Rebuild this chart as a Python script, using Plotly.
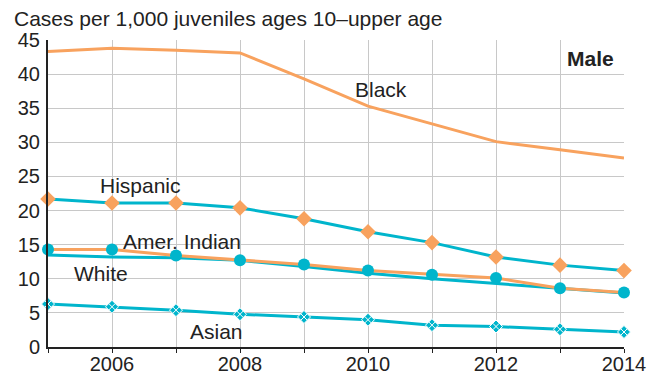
import plotly.graph_objects as go

years = list(range(2005, 2015))
black = [43.3, 43.8, 43.5, 43.1, 39.3, 35.3, 32.7, 30.1, 28.9, 27.7]
hispanic = [21.7, 21.1, 21.1, 20.4, 18.8, 16.9, 15.3, 13.2, 12.0, 11.2]
amer_indian = [14.3, 14.3, 13.4, 12.7, 12.1, 11.2, 10.6, 10.1, 8.6, 8.0]
white = [13.5, 13.2, 13.1, 12.7, 11.8, 10.8, 10.0, 9.3, 8.6, 7.9]
asian = [6.3, 5.9, 5.4, 4.8, 4.4, 4.0, 3.2, 3.0, 2.6, 2.2]
x_tick_text = ["" if y % 2 else str(y) for y in years]
y_ticks = list(range(0, 50, 5))

ORANGE = "#F8A25E"
CYAN = "#00B5CC"
FONT = "Liberation Sans, Arial, sans-serif"

fig = go.Figure()
fig.add_trace(go.Scatter(x=years, y=black, mode="lines",
                         line=dict(color=ORANGE, width=3), cliponaxis=False))
fig.add_trace(go.Scatter(x=years, y=white, mode="lines",
                         line=dict(color=CYAN, width=3), cliponaxis=False))
fig.add_trace(go.Scatter(x=years, y=amer_indian, mode="lines+markers",
                         line=dict(color=ORANGE, width=3),
                         marker=dict(symbol="circle", size=12, color=CYAN),
                         cliponaxis=False))
fig.add_trace(go.Scatter(x=years, y=hispanic, mode="lines+markers",
                         line=dict(color=CYAN, width=3),
                         marker=dict(symbol="diamond", size=12, color=ORANGE),
                         cliponaxis=False))
fig.add_trace(go.Scatter(x=years, y=asian, mode="lines+markers",
                         line=dict(color=CYAN, width=3),
                         marker=dict(symbol="diamond-x", size=10, color=CYAN,
                                     line=dict(color="white", width=1)),
                         cliponaxis=False))

def label(text, x, y, bold=False):
    fig.add_annotation(x=x, y=y, text=f"<b>{text}</b>" if bold else text,
                       showarrow=False, font=dict(size=21, color="#222", family=FONT),
                       xanchor="center", yanchor="middle")

label("Black", 2010.2, 37.7)
label("Hispanic", 2006.45, 23.7)
label("Amer. Indian", 2007.1, 15.5)
label("White", 2005.83, 10.8)
label("Asian", 2007.64, 2.2)
label("Male", 2013.47, 42.3, bold=True)

fig.add_annotation(xref="paper", yref="paper", x=-0.0625, y=1.0, yshift=8,
                   text="Cases per 1,000 juveniles ages 10\u2013upper age",
                   showarrow=False, xanchor="left", yanchor="bottom",
                   font=dict(size=21, color="#222", family=FONT))

# page body has an 8px margin, so the figure is shrunk by 8px on each axis
fig.update_layout(
    width=654, height=367,
    margin=dict(l=40, r=38, t=32, b=28),
    plot_bgcolor="white", paper_bgcolor="white",
    showlegend=False,
    font=dict(family=FONT, size=20, color="#222"),
    xaxis=dict(range=[2005, 2014], tickvals=years, ticktext=x_tick_text,
               showgrid=True, gridcolor="#C8C8C8", gridwidth=1.2,
               showline=True, linecolor="#222", linewidth=2,
               ticks="outside", ticklen=4, tickcolor="#222",
               ticklabelstandoff=-6,
               zeroline=False, tickfont=dict(size=20), automargin=False),
    yaxis=dict(range=[0, 45], tickvals=y_ticks,
               showgrid=True, gridcolor="#C8C8C8", gridwidth=1.2,
               showline=True, linecolor="#222", linewidth=2,
               ticks="", ticklabelstandoff=2,
               zeroline=False, tickfont=dict(size=20), automargin=False),
)

fig.write_html("out.html")
